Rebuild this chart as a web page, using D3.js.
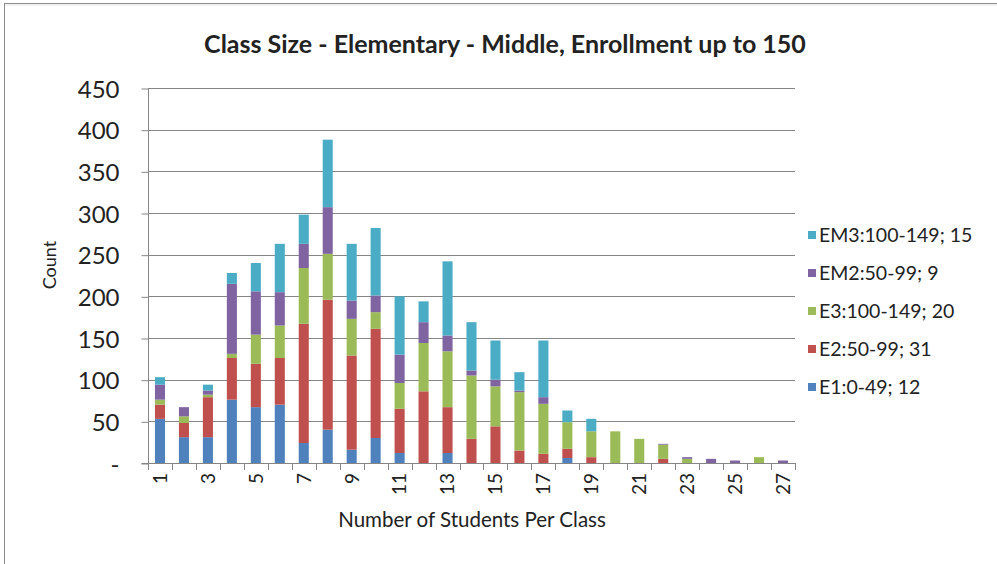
<!DOCTYPE html>
<html><head><meta charset="utf-8">
<script src="https://cdn.jsdelivr.net/npm/d3@7"></script>
<style>
body{margin:0;background:#fff}
svg{display:block}
text{font-family:Lato,"Open Sans",sans-serif;fill:#222}
</style>
</head><body>
<svg id="chart" width="997" height="564"></svg>
<script>
// ---- data ----
const categories = ["1","2","3","4","5","6","7","8","9","10","11","12","13","14","15","16","17","18","19","20","21","22","23","24","25","26","27"];
const E1  = [53,31,31,76,67,70,24,40,16,30,12,0,12,0,0,0,0,6,0,0,0,0,0,0,0,0,0];
const E2  = [17,17,48,50,52,56,143,156,113,131,53,86,55,29,44,15,11,11,7,0,0,5,0,0,0,0,0];
const E3  = [6,8,3,5,35,39,67,55,44,20,31,58,67,76,48,70,60,32,31,38,29,17,5,0,0,7,0];
const EM2 = [18,11,5,84,52,40,29,56,22,20,34,25,19,6,8,2,8,0,0,0,0,1,2,5,3,0,3];
const EM3 = [9,0,7,13,34,58,35,81,68,81,70,25,89,58,47,22,68,14,15,0,0,0,0,0,0,0,0];
const seriesNames = ["E1:0-49; 12","E2:50-99; 31","E3:100-149; 20","EM2:50-99; 9","EM3:100-149; 15"];
const seriesColors = ["#4F81BD","#C0504D","#9BBB59","#8064A2","#4BACC6"];
const yTickValues = [0,50,100,150,200,250,300,350,400,450];
const yTickLabels = ["-","50","100","150","200","250","300","350","400","450"];
const xTickLabels = ["1","3","5","7","9","11","13","15","17","19","21","23","25","27"];
const titleText = "Class Size - Elementary - Middle, Enrollment up to 150";
const xTitle = "Number of Students Per Class";
const yTitle = "Count";

// ---- build ----
const seriesData = [E1,E2,E3,EM2,EM3];
const rows = categories.map((c,i)=>{
  const r = {cat:c};
  seriesNames.forEach((n,k)=>{ r[n] = seriesData[k][i]; });
  return r;
});
const svg = d3.select("#chart");
const L = 148, R = 795, T = 88, B = 463;
const x = d3.scaleBand().domain(categories).range([L,R]).padding(0);
const y = d3.scaleLinear().domain([0,450]).range([B,T]);
const color = d3.scaleOrdinal().domain(seriesNames).range(seriesColors);

// frame
svg.append("rect").attr("x",4.5).attr("y",3.5).attr("width",1000).attr("height",600)
  .attr("fill","none").attr("stroke","#8c8c8c").attr("stroke-width",1);
svg.append("line").attr("x1",5).attr("x2",997).attr("y1",5).attr("y2",5).attr("stroke","#e4e4e4");

// gridlines
svg.append("g").selectAll("line").data(yTickValues.filter(v=>v>0)).join("line")
  .attr("x1",L).attr("x2",R).attr("y1",d=>Math.round(y(d))+0.5).attr("y2",d=>Math.round(y(d))+0.5)
  .attr("stroke","#868686").attr("stroke-width",1);

// bars
const stack = d3.stack().keys(seriesNames)(rows);
const bw = x.bandwidth()*0.42;
svg.append("g").selectAll("g").data(stack).join("g")
  .attr("fill",d=>color(d.key))
  .selectAll("rect").data(d=>d).join("rect")
  .attr("x",d=>x(d.data.cat)+(x.bandwidth()-bw)/2)
  .attr("width",bw)
  .attr("y",d=>y(d[1]))
  .attr("height",d=>Math.max(0,y(d[0])-y(d[1])));

// y axis
const yAxis = d3.axisLeft(y).tickValues(yTickValues).tickSize(7).tickPadding(22)
  .tickFormat((d,i)=>yTickLabels[i]);
const gy = svg.append("g").attr("transform",`translate(${L+0.5},0.5)`).call(yAxis);
gy.select(".domain").attr("stroke","#868686").attr("d",`M-7,${B}H0V${T}`);
gy.selectAll(".tick line").attr("stroke","#868686");
gy.selectAll(".tick text").attr("font-family","Lato").attr("font-size",24).attr("fill","#262626").attr("dy","0.36em");

// x axis
const boundaries = categories.map(c=>x(c)).concat([R]);
svg.append("line").attr("x1",L).attr("x2",R).attr("y1",B+0.5).attr("y2",B+0.5).attr("stroke","#868686");
svg.append("g").selectAll("line").data(boundaries).join("line")
  .attr("x1",d=>Math.round(d)+0.5).attr("x2",d=>Math.round(d)+0.5)
  .attr("y1",B).attr("y2",B+7).attr("stroke","#868686");
svg.append("g").selectAll("text").data(xTickLabels).join("text")
  .attr("transform",d=>`translate(${x(d)+x.bandwidth()/2},${B+10}) rotate(-90)`)
  .attr("text-anchor","end").attr("dy","0.36em")
  .attr("font-size",19).attr("fill","#262626").text(d=>d);

// titles
svg.append("text").attr("x",505).attr("y",53).attr("text-anchor","middle")
  .attr("font-size",25).attr("font-weight","bold").attr("fill","#222").text(titleText);
svg.append("text").attr("x",472).attr("y",527).attr("text-anchor","middle")
  .attr("font-size",20.5).attr("fill","#262626").text(xTitle);
svg.append("text").attr("transform","translate(56,265) rotate(-90)").attr("text-anchor","middle")
  .attr("font-size",18).attr("fill","#262626").text(yTitle);

// legend (top-down: reversed series order)
const legendOrder = seriesNames.slice().reverse();
const lg = svg.append("g").selectAll("g").data(legendOrder).join("g")
  .attr("transform",(d,i)=>`translate(808,${235+i*38})`);
lg.append("rect").attr("x",0).attr("y",-4).attr("width",8).attr("height",8).attr("fill",d=>color(d));
lg.append("text").attr("x",11).attr("dy","0.36em").attr("font-size",19.5).attr("fill","#262626").text(d=>d);
</script>
</body></html>
